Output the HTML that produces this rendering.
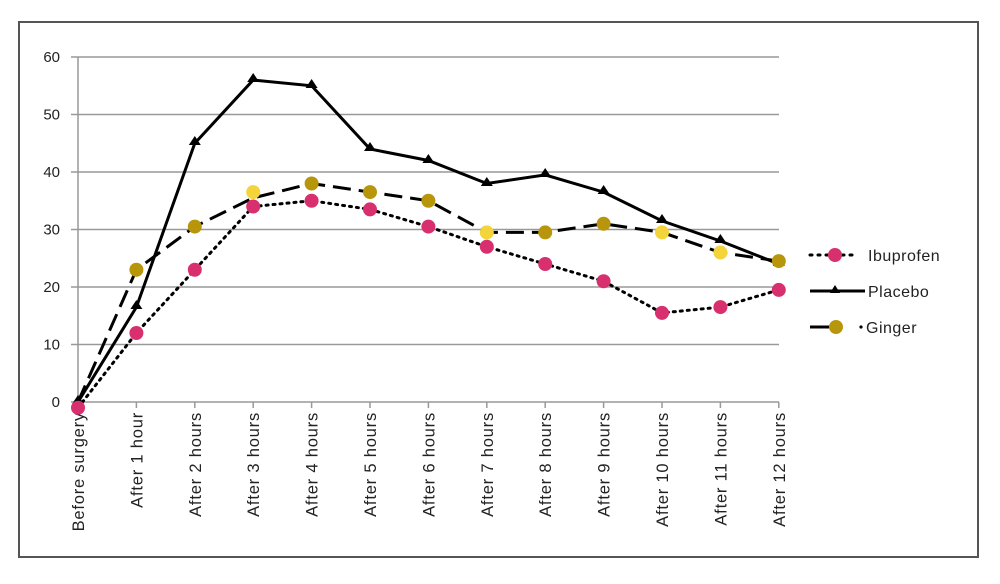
<!DOCTYPE html>
<html><head><meta charset="utf-8"><style>
html,body{margin:0;padding:0;background:#fff;}
svg{display:block;font-family:"Liberation Sans",sans-serif;}
</style></head><body>
<svg width="1000" height="584" viewBox="0 0 1000 584">
<rect x="19" y="22" width="959" height="535" fill="#fff" stroke="#555" stroke-width="2"/>
<g stroke="#999" stroke-width="1.5">
<line x1="71" y1="57" x2="779" y2="57"/>
<line x1="71" y1="114.5" x2="779" y2="114.5"/>
<line x1="71" y1="172" x2="779" y2="172"/>
<line x1="71" y1="229.5" x2="779" y2="229.5"/>
<line x1="71" y1="287" x2="779" y2="287"/>
<line x1="71" y1="344.5" x2="779" y2="344.5"/>
<line x1="71" y1="402" x2="779" y2="402"/>
<line x1="78" y1="57" x2="78" y2="402"/>
<line x1="136.4" y1="402" x2="136.4" y2="408"/><line x1="194.8" y1="402" x2="194.8" y2="408"/><line x1="253.2" y1="402" x2="253.2" y2="408"/><line x1="311.6" y1="402" x2="311.6" y2="408"/><line x1="370" y1="402" x2="370" y2="408"/><line x1="428.4" y1="402" x2="428.4" y2="408"/><line x1="486.8" y1="402" x2="486.8" y2="408"/><line x1="545.2" y1="402" x2="545.2" y2="408"/><line x1="603.6" y1="402" x2="603.6" y2="408"/><line x1="662" y1="402" x2="662" y2="408"/><line x1="720.4" y1="402" x2="720.4" y2="408"/><line x1="778.8" y1="402" x2="778.8" y2="408"/>
</g>
<g font-size="15" fill="#222" text-anchor="end">
<text x="60" y="62">60</text><text x="60" y="119.5">50</text><text x="60" y="177">40</text><text x="60" y="234.5">30</text><text x="60" y="292">20</text><text x="60" y="349.5">10</text><text x="60" y="407">0</text>
</g>
<g font-size="16.5" fill="#222" text-anchor="end" letter-spacing="0.8">
<text transform="translate(84,412) rotate(-90)">Before surgery</text>
<text transform="translate(142.4,412) rotate(-90)">After 1 hour</text>
<text transform="translate(200.8,412) rotate(-90)">After 2 hours</text>
<text transform="translate(259.2,412) rotate(-90)">After 3 hours</text>
<text transform="translate(317.6,412) rotate(-90)">After 4 hours</text>
<text transform="translate(376,412) rotate(-90)">After 5 hours</text>
<text transform="translate(434.4,412) rotate(-90)">After 6 hours</text>
<text transform="translate(492.8,412) rotate(-90)">After 7 hours</text>
<text transform="translate(551.2,412) rotate(-90)">After 8 hours</text>
<text transform="translate(609.6,412) rotate(-90)">After 9 hours</text>
<text transform="translate(668,412) rotate(-90)">After 10 hours</text>
<text transform="translate(726.4,412) rotate(-90)">After 11 hours</text>
<text transform="translate(784.8,412) rotate(-90)">After 12 hours</text>
</g>
<!-- Placebo -->
<polyline fill="none" stroke="#000" stroke-width="3" points="78,402 136.4,307.1 194.8,143.25 253.2,80 311.6,85.75 370,149 428.4,160.5 486.8,183.5 545.2,174.9 603.6,192.1 662,220.9 720.4,241 778.8,264"/>
<g fill="#000">
<path d="M78,395 l6,9 h-12z"/><path d="M136.4,300 l6,9 h-12z"/><path d="M194.8,136 l6,9 h-12z"/><path d="M253.2,73 l6,9 h-12z"/><path d="M311.6,79 l6,9 h-12z"/><path d="M370,142 l6,9 h-12z"/><path d="M428.4,154 l6,9 h-12z"/><path d="M486.8,177 l6,9 h-12z"/><path d="M545.2,168 l6,9 h-12z"/><path d="M603.6,185 l6,9 h-12z"/><path d="M662,214 l6,9 h-12z"/><path d="M720.4,234 l6,9 h-12z"/><path d="M778.8,257 l6,9 h-12z"/>
</g>
<!-- Ginger -->
<polyline fill="none" stroke="#000" stroke-width="3" stroke-dasharray="18,8" points="78,402 136.4,269.75 194.8,226.6 253.2,197.9 311.6,183.5 370,192.1 428.4,200.75 486.8,232.4 545.2,232.4 603.6,223.75 662,232.4 720.4,252.5 778.8,261.1"/>
<g>
<circle cx="136.4" cy="269.75" r="7" fill="#b8960c"/><circle cx="194.8" cy="226.6" r="7" fill="#b8960c"/><circle cx="253.2" cy="192.1" r="7" fill="#f3d43a"/><circle cx="311.6" cy="183.5" r="7" fill="#b8960c"/><circle cx="370" cy="192.1" r="7" fill="#b8960c"/><circle cx="428.4" cy="200.75" r="7" fill="#b8960c"/><circle cx="486.8" cy="232.4" r="7" fill="#f3d43a"/><circle cx="545.2" cy="232.4" r="7" fill="#b8960c"/><circle cx="603.6" cy="223.75" r="7" fill="#b8960c"/><circle cx="662" cy="232.4" r="7" fill="#f3d43a"/><circle cx="720.4" cy="252.5" r="7" fill="#f3d43a"/><circle cx="778.8" cy="261.1" r="7" fill="#b8960c"/>
</g>
<!-- Ibuprofen -->
<polyline fill="none" stroke="#000" stroke-width="3" stroke-dasharray="2,5" stroke-linecap="round" points="78,407.75 136.4,333 194.8,269.75 253.2,206.5 311.6,200.75 370,209.4 428.4,226.6 486.8,246.75 545.2,264 603.6,281.25 662,312.9 720.4,307.1 778.8,289.9"/>
<g fill="#d8306f">
<circle cx="78" cy="407.75" r="7"/><circle cx="136.4" cy="333" r="7"/><circle cx="194.8" cy="269.75" r="7"/><circle cx="253.2" cy="206.5" r="7"/><circle cx="311.6" cy="200.75" r="7"/><circle cx="370" cy="209.4" r="7"/><circle cx="428.4" cy="226.6" r="7"/><circle cx="486.8" cy="246.75" r="7"/><circle cx="545.2" cy="264" r="7"/><circle cx="603.6" cy="281.25" r="7"/><circle cx="662" cy="312.9" r="7"/><circle cx="720.4" cy="307.1" r="7"/><circle cx="778.8" cy="289.9" r="7"/>
</g>
<!-- Legend -->
<line x1="810" y1="255" x2="858" y2="255" stroke="#000" stroke-width="3" stroke-dasharray="2,6" stroke-linecap="round"/>
<circle cx="835" cy="255" r="7" fill="#d8306f"/>
<text x="868" y="261" font-size="16" fill="#222" letter-spacing="0.5">Ibuprofen</text>
<line x1="810" y1="291" x2="865" y2="291" stroke="#000" stroke-width="3"/>
<path d="M835,285 l5,8 h-10z" fill="#000"/>
<text x="868" y="297" font-size="16" fill="#222" letter-spacing="0.5">Placebo</text>
<line x1="810" y1="327" x2="840" y2="327" stroke="#000" stroke-width="3"/>
<circle cx="836" cy="327" r="7" fill="#b8960c"/>
<circle cx="861" cy="327" r="1.6" fill="#000"/>
<text x="866" y="333" font-size="16" fill="#222" letter-spacing="0.5">Ginger</text>
</svg>
</body></html>
